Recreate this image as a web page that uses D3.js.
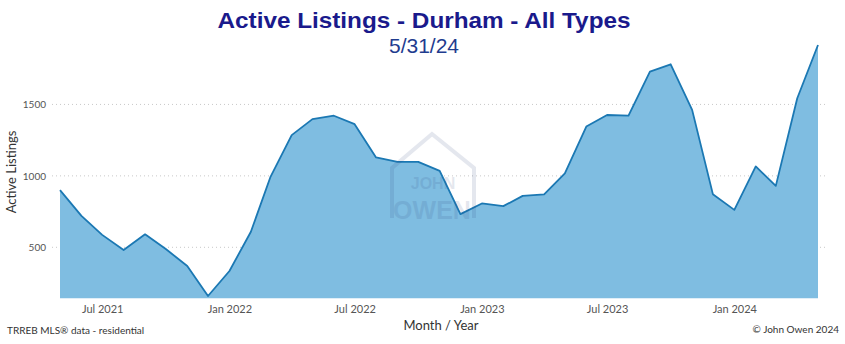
<!DOCTYPE html>
<html lang="en">
<head>
    <meta charset="UTF-8">
    <title>Active Listings - Durham - All Types</title>
    <script src="https://cdn.jsdelivr.net/npm/d3@7"></script>
    <style>
        body { margin: 0; background: #fff; }
        svg { display: block; }
        .tick text { font-family: "Lato", "Open Sans", sans-serif; fill: #555; }
        .grid line { stroke: #c8c8c8; stroke-dasharray: 1 3; }
    </style>
</head>
<body>
<script>
    // monthly values, May 2021 .. May 2024
    const months = d3.timeMonths(new Date(2021, 4, 1), new Date(2024, 4, 2));
    const listings = [900, 720, 587, 481, 591, 488, 369, 159, 334, 609, 989, 1285,
        1397, 1421, 1362, 1129, 1098, 1098, 1035, 732, 807, 788, 860, 870,
        1017, 1345, 1426, 1421, 1729, 1781, 1462, 872, 762, 1066, 930, 1543, 1916];
    const yTicks = [500, 1000, 1500];
    const xTicks = [new Date(2021, 6, 1), new Date(2022, 0, 1), new Date(2022, 6, 1),
        new Date(2023, 0, 1), new Date(2023, 6, 1), new Date(2024, 0, 1)];

    const width = 845, height = 344;
    const data = months.map((m, i) => ({ date: m, value: listings[i] }));

    const svg = d3.select("body").append("svg")
        .attr("width", width)
        .attr("height", height);

    const x = d3.scaleTime()
        .domain(d3.extent(months))
        .range([60, 818]);

    const y = d3.scaleLinear()
        .domain([143, 1916])
        .range([298.3, 45]);

    // gridlines
    svg.append("g")
        .attr("class", "grid")
        .selectAll("line")
        .data(yTicks)
        .enter().append("line")
        .attr("x1", 52)
        .attr("x2", 825)
        .attr("y1", d => y(d))
        .attr("y2", d => y(d));

    // area + line
    const area = d3.area()
        .x(d => x(d.date))
        .y0(y.range()[0])
        .y1(d => y(d.value));

    const line = d3.line()
        .x(d => x(d.date))
        .y(d => y(d.value));

    svg.append("path")
        .datum(data)
        .attr("fill", "#7fbde1")
        .attr("d", area);

    svg.append("path")
        .datum(data)
        .attr("fill", "none")
        .attr("stroke", "#1b78b3")
        .attr("stroke-width", 1.8)
        .attr("stroke-linejoin", "round")
        .attr("d", line);

    // watermark (drawn over the area, faint)
    const wm = svg.append("g").attr("opacity", 0.12);
    wm.append("path")
        .attr("d", "M392,218 L392,168 L432,134 L474,168 L474,218")
        .attr("fill", "none")
        .attr("stroke", "#2a3f7a")
        .attr("stroke-width", 4);
    wm.append("text")
        .attr("x", 433).attr("y", 189)
        .attr("text-anchor", "middle")
        .attr("font-family", "Liberation Sans, Arial, sans-serif")
        .attr("font-weight", "bold")
        .attr("font-size", 16)
        .attr("fill", "#2a3f7a")
        .text("JOHN");
    wm.append("text")
        .attr("x", 432).attr("y", 219)
        .attr("text-anchor", "middle")
        .attr("font-family", "Liberation Sans, Arial, sans-serif")
        .attr("font-weight", "bold")
        .attr("font-size", 25)
        .attr("fill", "#2a3f7a")
        .text("OWEN");

    // axes
    const xAxis = svg.append("g")
        .attr("transform", "translate(0,298)")
        .call(d3.axisBottom(x).tickValues(xTicks).tickFormat(d3.timeFormat("%b %Y")).tickSize(0).tickPadding(7));
    xAxis.select(".domain").remove();
    xAxis.selectAll("text").attr("font-size", 11);

    const yAxis = svg.append("g")
        .attr("transform", "translate(46,0)")
        .call(d3.axisLeft(y).tickValues(yTicks).tickFormat(d3.format("d")).tickSize(0).tickPadding(0));
    yAxis.select(".domain").remove();
    yAxis.selectAll("text").attr("font-size", 10);

    // titles
    svg.append("text")
        .attr("x", 424).attr("y", 27.7)
        .attr("text-anchor", "middle")
        .attr("font-family", "Liberation Sans, Arial, sans-serif")
        .attr("font-weight", "bold")
        .attr("font-size", 22)
        .attr("textLength", 413)
        .attr("lengthAdjust", "spacingAndGlyphs")
        .attr("fill", "#1a1a8c")
        .text("Active Listings - Durham - All Types");

    svg.append("text")
        .attr("x", 424).attr("y", 52.7)
        .attr("text-anchor", "middle")
        .attr("font-family", "Liberation Sans, Arial, sans-serif")
        .attr("font-size", 21)
        .attr("fill", "#1f3c8f")
        .text("5/31/24");

    svg.append("text")
        .attr("transform", "translate(16,172) rotate(-90)")
        .attr("text-anchor", "middle")
        .attr("font-family", "Lato, sans-serif")
        .attr("font-size", 13)
        .attr("fill", "#333")
        .text("Active Listings");

    svg.append("text")
        .attr("x", 441).attr("y", 330)
        .attr("text-anchor", "middle")
        .attr("font-family", "Lato, sans-serif")
        .attr("font-size", 13)
        .attr("fill", "#333")
        .text("Month / Year");

    svg.append("text")
        .attr("x", 7).attr("y", 334)
        .attr("font-family", "Lato, sans-serif")
        .attr("font-size", 10)
        .attr("fill", "#333")
        .text("TRREB MLS® data - residential");

    svg.append("text")
        .attr("x", 839).attr("y", 333)
        .attr("text-anchor", "end")
        .attr("font-family", "Lato, sans-serif")
        .attr("font-size", 10)
        .attr("fill", "#333")
        .text("© John Owen 2024");
</script>
</body>
</html>
